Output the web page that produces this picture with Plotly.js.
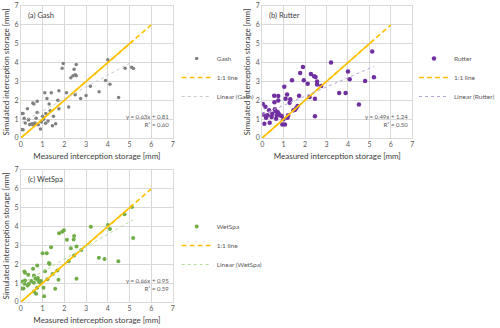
<!DOCTYPE html>
<html>
<head>
<meta charset="utf-8">
<script src="https://cdn.plot.ly/plotly-3.0.1.min.js"></script>
<style>
  html, body { margin: 0; padding: 0; background: #fff; }
  #plot { width: 500px; height: 328px; }
</style>
</head>
<body>
<div id="plot"></div>
<script>
// Measured vs simulated interception storage [mm]
let gashX = [0.05, 0.1, 0.05, 0.1, 0.15, 0.2, 0.3, 0.35, 0.35, 0.55, 0.6, 0.5, 0.55, 0.6, 0.65,
  0.7, 0.75, 0.75, 0.8, 0.9, 0.95, 1.0, 1.05, 1.1, 1.15, 1.2, 1.25, 1.3, 1.35, 1.4, 1.45, 1.5,
  1.6, 1.7, 1.75, 1.75, 1.9, 1.95, 2.1, 2.2, 2.3, 2.4, 2.45, 2.5, 2.55, 2.55, 2.5, 2.75, 3.0,
  3.2, 3.6, 3.9, 4.0, 4.1, 4.5, 4.8, 5.1, 5.18, 1.14, 0.4];
let gashY = [1.3, 1.3, 0.45, 0.44, 1.05, 0.8, 1.55, 1.0, 0.95, 1.85, 1.8, 0.75, 0.7, 0.75, 0.8,
  1.05, 1.35, 1.95, 0.7, 0.48, 0.85, 1.15, 1.0, 2.4, 1.3, 2.1, 0.9, 1.8, 1.45, 2.4, 0.65, 1.15,
  0.75, 2.0, 1.55, 2.5, 3.7, 3.95, 2.4, 1.65, 3.2, 3.3, 3.65, 3.35, 3.3, 3.9, 2.3, 2.1, 2.25,
  2.75, 2.45, 3.05, 4.15, 2.85, 2.15, 3.7, 3.75, 3.68, 0.78, 0.72];

let rutterX = [0.03, 0.06, 0.15, 0.1, 0.18, 0.25, 0.32, 0.35, 0.44, 0.47, 0.56, 0.57, 0.59, 0.62,
  0.65, 0.68, 0.72, 0.75, 0.75, 0.77, 0.81, 0.91, 0.94, 0.99, 1.03, 1.06, 1.09, 1.16, 1.18, 1.21,
  1.28, 1.31, 1.39, 1.46, 1.53, 1.59, 1.65, 1.72, 1.77, 1.9, 1.94, 2.12, 2.21, 2.27, 2.42, 2.49,
  2.46, 2.46, 2.56, 2.56, 2.75, 3.21, 3.59, 3.89, 4.0, 4.08, 4.51, 4.8, 5.13, 5.21];
let rutterY = [1.8, 1.24, 1.66, 0.76, 1.08, 1.2, 1.47, 0.81, 1.11, 1.29, 2.24, 1.9, 1.52, 1.43,
  1.02, 1.2, 1.38, 1.99, 2.23, 1.29, 1.2, 1.17, 0.71, 0.99, 2.72, 0.71, 2.08, 2.31, 1.08, 1.2,
  1.87, 2.05, 3.06, 1.47, 1.5, 1.59, 1.7, 2.24, 3.45, 3.76, 3.06, 2.88, 2.17, 3.39, 3.27, 3.23,
  2.08, 1.15, 3.0, 2.84, 2.76, 4.01, 2.39, 2.39, 3.53, 3.11, 1.78, 3.02, 4.59, 3.22];

let wetspaX = [0.04, 0.12, 0.07, 0.16, 0.16, 0.19, 0.19, 0.31, 0.34, 0.37, 0.48, 0.56, 0.6, 0.6,
  0.6, 0.67, 0.7, 0.75, 0.75, 0.78, 0.8, 0.85, 0.92, 1.0, 1.04, 1.07, 1.11, 1.19, 1.22, 1.29,
  1.32, 1.39, 1.46, 1.58, 1.68, 1.76, 1.73, 1.9, 1.98, 2.12, 2.2, 2.3, 2.43, 2.45, 2.45, 2.56,
  2.56, 2.78, 3.22, 3.59, 3.85, 4.01, 4.1, 4.49, 4.77, 5.11, 5.17];
let wetspaY = [0.72, 0.72, 1.09, 0.97, 1.62, 1.55, 1.14, 0.88, 1.44, 0.97, 1.11, 1.76, 1.41, 1.02,
  0.56, 1.23, 0.44, 1.93, 0.76, 1.27, 1.14, 1.05, 1.11, 2.58, 0.76, 0.3, 1.63, 2.58, 1.2, 2.07,
  2.02, 2.9, 1.49, 0.7, 1.67, 3.64, 1.18, 3.73, 3.81, 3.3, 2.16, 2.85, 3.32, 3.5, 2.46, 2.94,
  1.23, 2.76, 3.99, 2.34, 2.28, 4.08, 3.87, 2.16, 4.66, 5.04, 3.39];

// linear fits as printed on the chart: [slope, intercept, R2]
let gashFit = [0.63, 0.81, 0.60];
let rutterFit = [0.49, 1.24, 0.50];
let wetspaFit = [0.66, 0.95, 0.59];

let oneToOne = [0, 6];
let axisTicks = [0, 1, 2, 3, 4, 5, 6, 7];

let font = 'Lato, "Open Sans", sans-serif';

let panels = [
  {name: 'Gash', label: '(a) Gash', x: gashX, y: gashY, fit: gashFit, color: '#808080', size: 3.5,
   trend: '#c8c8c8', xa: 'x', ya: 'y', leg: 'legend'},
  {name: 'Rutter', label: '(b) Rutter', x: rutterX, y: rutterY, fit: rutterFit, color: '#7030a0', size: 4.5,
   trend: '#b9a3d6', xa: 'x2', ya: 'y2', leg: 'legend2'},
  {name: 'WetSpa', label: '(c) WetSpa', x: wetspaX, y: wetspaY, fit: wetspaFit, color: '#70ad47', size: 4,
   trend: '#b5dc9a', xa: 'x3', ya: 'y3', leg: 'legend3'}
];

let traces = [];
panels.forEach(p => {
  traces.push({
    x: p.x, y: p.y, xaxis: p.xa, yaxis: p.ya, legend: p.leg,
    type: 'scatter', mode: 'markers', name: p.name,
    marker: {color: p.color, size: p.size}
  });
  // 1:1 line, dashed for legend and the tail
  traces.push({
    x: oneToOne, y: oneToOne, xaxis: p.xa, yaxis: p.ya, legend: p.leg,
    type: 'scatter', mode: 'lines', name: '1:1 line',
    line: {color: '#ffc000', width: 1.6, dash: '5px,3px'}
  });
  let xmax = Math.max(...p.x);
  traces.push({
    x: [0, xmax], y: [0, xmax], xaxis: p.xa, yaxis: p.ya, legend: p.leg,
    type: 'scatter', mode: 'lines', showlegend: false, hoverinfo: 'skip',
    line: {color: '#ffc000', width: 1.6}
  });
  let xmin = Math.min(...p.x);
  traces.push({
    x: [xmin, xmax], y: [p.fit[0] * xmin + p.fit[1], p.fit[0] * xmax + p.fit[1]],
    xaxis: p.xa, yaxis: p.ya, legend: p.leg,
    type: 'scatter', mode: 'lines', name: 'Linear (' + p.name + ')',
    line: {color: p.trend, width: 1, dash: 'dot'}
  });
});

function xAxis(domain, anchor) {
  return {
    domain: domain, anchor: anchor, range: [0, 7], tickvals: axisTicks,
    showgrid: true, gridcolor: '#d9d9d9', gridwidth: 1, zeroline: false,
    showline: true, linecolor: '#d9d9d9', mirror: true, ticks: '',
    tickfont: {family: font, size: 7, color: '#595959'},
    title: {text: 'Measured interception storage [mm]', font: {family: font, size: 8, color: '#404040'}, standoff: 5}
  };
}
function yAxis(domain, anchor) {
  return {
    domain: domain, anchor: anchor, range: [0, 7], tickvals: axisTicks,
    showgrid: true, gridcolor: '#d9d9d9', gridwidth: 1, zeroline: false,
    showline: true, linecolor: '#d9d9d9', mirror: true, ticks: '',
    tickfont: {family: font, size: 7, color: '#595959'},
    title: {text: 'Simulated interception storage [mm]', font: {family: font, size: 8, color: '#404040'}, standoff: 3}
  };
}

let xdomA = [22 / 500, 182 / 500];
let xdomB = [276 / 500, 434 / 500];
let ydomTop = [1 - 138 / 328, 1 - 6 / 328];
let ydomBot = [1 - 302 / 328, 1 - 170 / 328];

function legendAt(x, y) {
  return {x: x, y: y, xanchor: 'left', yanchor: 'top', bgcolor: 'rgba(0,0,0,0)',
    font: {family: font, size: 6.5, color: '#595959'}, tracegroupgap: 0, itemwidth: 30};
}

let annotations = [];
let boxes = [
  {xd: xdomA, yd: ydomTop}, {xd: xdomB, yd: ydomTop}, {xd: xdomA, yd: ydomBot}
];
panels.forEach((p, i) => {
  let b = boxes[i];
  annotations.push({
    xref: 'paper', yref: 'paper', x: b.xd[0] + 5 / 500, y: b.yd[1] - 3 / 328,
    xanchor: 'left', yanchor: 'top', showarrow: false, text: p.label,
    font: {family: font, size: 7.5, color: '#404040'}
  });
  annotations.push({
    xref: 'paper', yref: 'paper', x: b.xd[1] - 2 / 500, y: b.yd[0] + 8 / 328,
    xanchor: 'right', yanchor: 'bottom', showarrow: false, align: 'right',
    text: 'y = ' + p.fit[0].toFixed(2) + 'x + ' + p.fit[1].toFixed(2) + '<br>R² = ' + p.fit[2].toFixed(2),
    font: {family: font, size: 6, color: '#595959'}
  });
});

let layout = {
  width: 500, height: 328,
  margin: {l: 0, r: 0, t: 0, b: 0},
  paper_bgcolor: '#fff', plot_bgcolor: '#fff',
  showlegend: true,
  xaxis: xAxis(xdomA, 'y'), yaxis: yAxis(ydomTop, 'x'),
  xaxis2: xAxis(xdomB, 'y2'), yaxis2: yAxis(ydomTop, 'x2'),
  xaxis3: xAxis(xdomA, 'y3'), yaxis3: yAxis(ydomBot, 'x3'),
  legend: legendAt(186 / 500, 1 - 44 / 328),
  legend2: legendAt(436 / 500, 1 - 44 / 328),
  legend3: legendAt(186 / 500, 1 - 212 / 328),
  annotations: annotations
};

// wait for the font so legend widths are measured with it
document.fonts.load('7px Lato').then(() => {
  Plotly.newPlot('plot', traces, layout, {displayModeBar: false, staticPlot: true});
});
</script>
</body>
</html>
